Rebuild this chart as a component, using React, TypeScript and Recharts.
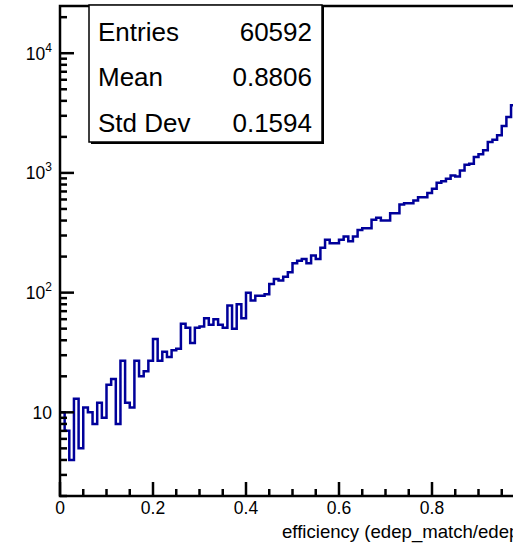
import React from 'react';
import { ComposedChart, Line, XAxis, YAxis } from 'recharts';

const FONT = '"Liberation Sans", Arial, Helvetica, sans-serif';
const HIST_COLOR = '#00009a';

// 100 bins of 0.01 between 0 and 1
const BIN_WIDTH = 0.01;
const counts = [
  10, 7, 4, 13, 5, 11, 10, 8, 12, 9,
  17, 19, 8, 27, 12, 11, 27, 20, 22, 27,
  41, 27, 32, 29, 33, 34, 55, 51, 38, 51,
  52, 61, 54, 60, 54, 51, 78, 50, 80, 61,
  100, 86, 94, 94, 97, 118, 130, 126, 136, 148,
  176, 185, 191, 176, 204, 191, 237, 276, 259, 259,
  276, 294, 269, 294, 334, 345, 345, 406, 422, 401,
  401, 461, 461, 545, 558, 558, 589, 627, 627, 678,
  738, 828, 854, 894, 953, 935, 1050, 1171, 1194, 1357,
  1429, 1543, 1811, 1897, 2061, 2465, 2933, 3673, 4500, 5600,
];

const xTicks = [
  0, 0.05, 0.1, 0.15, 0.2, 0.25, 0.3, 0.35, 0.4, 0.45,
  0.5, 0.55, 0.6, 0.65, 0.7, 0.75, 0.8, 0.85, 0.9, 0.95, 1,
];
const xLabels = ['0', '0.2', '0.4', '0.6', '0.8'];

const yTicks = [
  2, 3, 4, 5, 6, 7, 8, 9,
  10, 20, 30, 40, 50, 60, 70, 80, 90,
  100, 200, 300, 400, 500, 600, 700, 800, 900,
  1000, 2000, 3000, 4000, 5000, 6000, 7000, 8000, 9000,
  10000, 20000,
];

const statNames = ['Entries', 'Mean', 'Std Dev'];
const statValues = ['60592', '0.8806', '0.1594'];

const xTitle = 'efficiency (edep_match/edep_total)';

// stepAfter needs a closing point at the upper edge of the last bin
const histData = counts
  .map((c, i) => ({ x: +(i * BIN_WIDTH).toFixed(2), y: c }))
  .concat([{ x: 1, y: counts[counts.length - 1] }]);

const PLOT = { left: 60, top: 6, right: 525, bottom: 496 };

function XTick(props: any) {
  const { x, y, payload } = props;
  const v = payload.value as number;
  const major = Math.abs(v * 5 - Math.round(v * 5)) < 1e-6;
  const label = xLabels[Math.round(v * 5)];
  return (
    <g>
      <line x1={x} x2={x} y1={y} y2={y - (major ? 14 : 7)} stroke="#000" strokeWidth={2.5} />
      {major && label && (
        <text x={x} y={y + 18} textAnchor="middle" fontSize={17.5} fontFamily={FONT} fill="#000">
          {label}
        </text>
      )}
    </g>
  );
}

function YTick(props: any) {
  const { x, y, payload } = props;
  const v = payload.value as number;
  const exp = Math.log10(v);
  const decade = Math.abs(exp - Math.round(exp)) < 1e-6;
  const n = Math.round(exp);
  return (
    <g>
      <line x1={x} x2={x + (decade ? 14 : 7)} y1={y} y2={y} stroke="#000" strokeWidth={2.5} />
      {decade && (
        <text x={52} y={y + 6.3} textAnchor="end" fontSize={17.5} fontFamily={FONT} fill="#000">
          10
          {n > 1 && (
            <tspan dy={-8} fontSize={12}>
              {n}
            </tspan>
          )}
        </text>
      )}
    </g>
  );
}

function StatsBox() {
  const left = 89;
  const top = 5;
  const w = 233;
  const h = 137;
  const baselines = [40.5, 85.5, 131.5];
  return (
    <g>
      <rect x={left + 2} y={top + 2} width={w} height={h} fill="#000" />
      <rect x={left} y={top} width={w} height={h} fill="#fff" stroke="#000" strokeWidth={1.5} />
      {statNames.map((name, i) => (
        <g key={name}>
          <text x={98} y={baselines[i]} fontSize={26} fontFamily={FONT} fill="#000">
            {name}
          </text>
          <text x={312} y={baselines[i]} textAnchor="end" fontSize={26} fontFamily={FONT} fill="#000">
            {statValues[i]}
          </text>
        </g>
      ))}
    </g>
  );
}

export default function App() {
  return (
    <div
      style={{
        position: 'absolute',
        left: 0,
        top: 0,
        width: 513,
        height: 546,
        overflow: 'hidden',
        background: '#fff',
      }}
    >
      <ComposedChart
        width={530}
        height={546}
        data={histData}
        margin={{ top: PLOT.top, right: 530 - PLOT.right, bottom: 0, left: 0 }}
      >
        <XAxis
          type="number"
          dataKey="x"
          domain={[0, 1]}
          ticks={xTicks}
          interval={0}
          tickSize={0}
          tickMargin={0}
          axisLine={false}
          tickLine={false}
          tick={XTick}
          height={546 - PLOT.bottom}
          allowDataOverflow
        />
        <YAxis
          type="number"
          scale="log"
          domain={[2, 24800]}
          ticks={yTicks}
          interval={0}
          tickSize={0}
          tickMargin={0}
          axisLine={false}
          tickLine={false}
          tick={YTick}
          width={PLOT.left}
          allowDataOverflow
        />
        <Line
          type="stepAfter"
          dataKey="y"
          stroke={HIST_COLOR}
          strokeWidth={2.5}
          dot={false}
          isAnimationActive={false}
        />
      </ComposedChart>
      <svg
        width={530}
        height={546}
        style={{ position: 'absolute', left: 0, top: 0, pointerEvents: 'none' }}
      >
        <rect
          x={PLOT.left}
          y={PLOT.top}
          width={PLOT.right - PLOT.left}
          height={PLOT.bottom - PLOT.top}
          fill="none"
          stroke="#000"
          strokeWidth={2.5}
        />
        <StatsBox />
        <text x={282} y={538} fontSize={18.6} fontFamily={FONT} fill="#000">
          {xTitle}
        </text>
      </svg>
    </div>
  );
}
